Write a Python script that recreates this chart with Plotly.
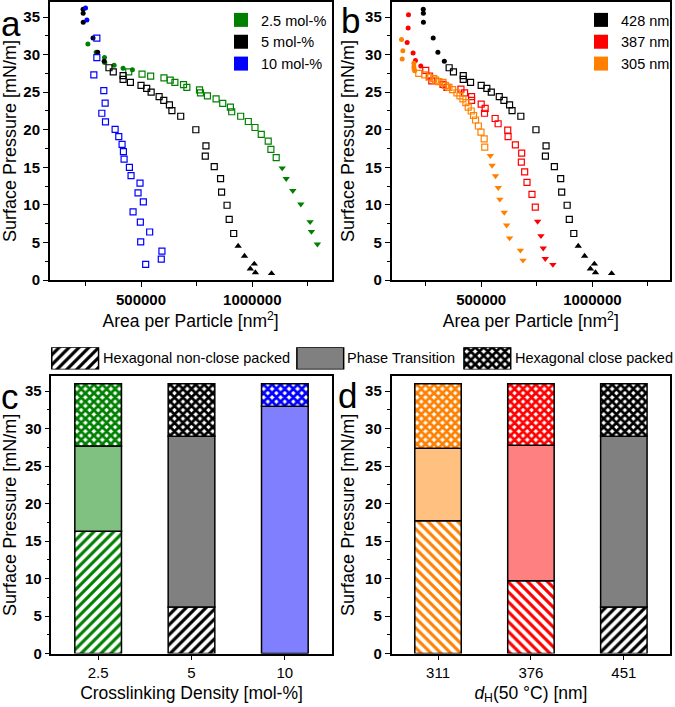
import plotly.graph_objects as go

FONT = "Liberation Sans, Arial, sans-serif"
W, H = 675, 707

# ---------------- Panel a / b data (Area per particle [nm^2], Surface pressure [mN/m]) ----------------
# 2.5 mol-% (green)
G_CIRC_X = [261200, 298500, 335800, 337300, 379100, 419400, 461200]
G_CIRC_Y = [31.4, 30.3, 29.6, 28.95, 28.6, 28.2, 28.0]
G_SQ_X = [444800, 504500, 543300, 603000, 631300, 652200, 691000, 706000, 762700, 767200, 798500,
          837300, 867200, 901500, 907500, 947800, 982100, 1012000, 1040300, 1071600, 1083600, 1107400]
G_SQ_Y = [27.7, 27.4, 27.15, 26.9, 26.6, 26.3, 26.0, 25.65, 25.3, 24.9, 24.5,
          24.1, 23.5, 23.0, 22.4, 21.8, 21.1, 20.3, 19.4, 18.5, 17.4, 16.3]
G_TRI_X = [1134300, 1152200, 1182100, 1217900, 1259700, 1265700, 1292500]
G_TRI_Y = [14.9, 13.5, 11.9, 10.1, 7.76, 6.45, 4.78]

# 5 mol-% = 428 nm (black)
K_CIRC_X = [239600, 240000, 240300, 284300, 305300, 334300]
K_CIRC_Y = [36.05, 35.5, 34.3, 32.2, 30.3, 29.1]
K_SQ_X = [356000, 375300, 419400, 419400, 452200, 500000, 525400, 545500, 581300, 602200, 627600,
          638800, 678300, 746300, 791700, 788700, 829000, 857400, 862000, 886600, 896200, 916400]
K_SQ_Y = [28.25, 27.7, 27.2, 26.7, 26.3, 25.9, 25.5, 25.0, 24.4, 23.9, 23.3,
          22.55, 21.8, 20.0, 17.85, 16.5, 15.1, 13.5, 11.7, 9.96, 8.07, 6.2]
K_TRI_X = [936500, 965000, 1008900, 991000, 1014000, 1086500]
K_TRI_Y = [4.53, 3.2, 2.15, 1.5, 1.0, 0.88]

# 10 mol-% (blue)
B_CIRC_X = [250700, 256700]
B_CIRC_Y = [36.2, 34.6]
B_SQ_X = [301500, 301500, 288000, 332800, 338800, 323900, 340300, 383600, 400000, 414900, 420900,
          423900, 447800, 455200, 495500, 486600, 510400, 464200, 497000, 498500, 538800, 594000,
          591000, 520900]
B_SQ_Y = [32.2, 29.6, 27.3, 25.2, 23.55, 22.2, 21.05, 20.04, 19.08, 18.07, 17.1,
          16.1, 15.0, 13.9, 12.9, 11.6, 10.4, 9.08, 7.72, 5.09, 6.4, 3.86,
          2.8, 2.1]

# 387 nm (red)
R_CIRC_X = [173100, 171600, 167200, 194000, 204500, 228400]
R_CIRC_Y = [35.3, 33.55, 31.6, 30.2, 29.2, 28.5]
R_SQ_X = [250800, 268000, 278000, 328400, 346300, 409000, 425400, 456700, 456700, 500000, 517900,
          515000, 562700, 576100, 619400, 620900, 653700, 682100, 680600, 695500, 706000, 728400, 743300]
R_SQ_Y = [27.9, 27.15, 26.5, 26.05, 25.65, 25.4, 24.9, 24.4, 23.9, 23.4, 22.85,
          22.2, 21.5, 20.8, 19.95, 19.1, 18.0, 16.9, 15.7, 14.4, 13.0, 11.4, 9.7]
R_TRI_X = [753700, 768700, 779100, 788000, 822400]
R_TRI_Y = [7.8, 5.9, 4.25, 2.85, 2.06]

# 305 nm (orange)
O_CIRC_X = [141800, 147800, 144800, 197400, 197400, 198500, 201000]
O_CIRC_Y = [32.0, 30.5, 29.4, 28.85, 28.4, 28.1, 27.85]
O_SQ_X = [219400, 246300, 265700, 286600, 295500, 309000, 328400, 338800, 355200, 371600, 391000,
          404500, 417900, 431300, 441800, 455200, 465700, 474600, 487500, 499000, 513500, 516000]
O_SQ_Y = [27.5, 27.3, 27.0, 26.8, 26.6, 26.4, 26.3, 25.9, 25.65, 25.35, 24.9,
          24.5, 24.1, 23.6, 23.0, 22.5, 21.9, 21.3, 20.5, 19.7, 18.8, 17.7]
O_TRI_X = [541000, 549300, 564300, 576800, 583700, 603700, 614300, 627700, 676200, 688000]
O_TRI_Y = [16.55, 15.25, 13.85, 12.3, 10.75, 9.0, 7.3, 5.6, 3.97, 2.64]

A_LEGEND = ["2.5 mol-%", "5 mol-%", "10 mol-%"]
B_LEGEND = ["428 nm", "387 nm", "305 nm"]

# ---------------- Panel c / d data (phase boundaries, mN/m) ----------------
C_CATS = ["2.5", "5", "10"]
C_LOWER_TOP = [16.3, 6.2, 0.0]
C_TRANS_TOP = [27.7, 29.0, 33.0]
C_TOP = [36.0, 36.0, 36.0]

D_CATS = ["311", "376", "451"]
D_LOWER_TOP = [17.7, 9.7, 6.2]
D_TRANS_TOP = [27.4, 27.8, 29.0]
D_TOP = [36.0, 36.0, 36.0]

PHASE_NAMES = ["Hexagonal non-close packed", "Phase Transition", "Hexagonal close packed"]

# ---------------- styles ----------------
GREEN, BLACK, BLUE, RED, ORANGE = "#008000", "#000000", "#0000ff", "#ff0000", "#ff8000"
C_DARK = [GREEN, BLACK, BLUE]
C_LIGHT = ["#80c080", "#808080", "#8080ff"]
C_HATCH = ["/", "/", "/"]
D_DARK = [ORANGE, RED, BLACK]
D_LIGHT = ["#ffc080", "#ff8080", "#808080"]
D_HATCH = ["\\", "\\", "/"]


def px_x(p):
    return p / W


def px_y(p):
    return 1 - p / H


fig = go.Figure()


def add_series(xref, yref, cx, cy, sx, sy, tx, ty, tri_symbol, color, name, legend):
    fig.add_trace(go.Scatter(x=sx, y=sy, mode="markers", xaxis=xref, yaxis=yref, showlegend=False,
                             marker=dict(symbol="square-open", size=6, color=color,
                                         line=dict(width=1.2, color=color))))
    fig.add_trace(go.Scatter(x=tx, y=ty, mode="markers", xaxis=xref, yaxis=yref, showlegend=False,
                             marker=dict(symbol=tri_symbol, size=6.5, color=color, line=dict(width=0))))
    fig.add_trace(go.Scatter(x=cx, y=cy, mode="markers", xaxis=xref, yaxis=yref, showlegend=False,
                             marker=dict(symbol="circle", size=5, color=color, line=dict(width=0))))
    fig.add_trace(go.Scatter(x=[None], y=[None], mode="markers", xaxis=xref, yaxis=yref, name=name,
                             legend=legend, showlegend=True,
                             marker=dict(symbol="square", size=14, color=color, line=dict(width=0))))


# panel a
add_series("x", "y", G_CIRC_X, G_CIRC_Y, G_SQ_X, G_SQ_Y, G_TRI_X, G_TRI_Y, "triangle-down", GREEN, A_LEGEND[0], "legend")
add_series("x", "y", K_CIRC_X, K_CIRC_Y, K_SQ_X, K_SQ_Y, K_TRI_X, K_TRI_Y, "triangle-up", BLACK, A_LEGEND[1], "legend")
add_series("x", "y", B_CIRC_X, B_CIRC_Y, B_SQ_X, B_SQ_Y, [], [], "triangle-up", BLUE, A_LEGEND[2], "legend")
# panel b
add_series("x2", "y2", K_CIRC_X, K_CIRC_Y, K_SQ_X, K_SQ_Y, K_TRI_X, K_TRI_Y, "triangle-up", BLACK, B_LEGEND[0], "legend2")
add_series("x2", "y2", R_CIRC_X, R_CIRC_Y, R_SQ_X, R_SQ_Y, R_TRI_X, R_TRI_Y, "triangle-down", RED, B_LEGEND[1], "legend2")
add_series("x2", "y2", O_CIRC_X, O_CIRC_Y, O_SQ_X, O_SQ_Y, O_TRI_X, O_TRI_Y, "triangle-down", ORANGE, B_LEGEND[2], "legend2")

BAR_LINE = dict(color="black", width=1.5)


def add_bars(xref, yref, cats, lower, trans, top, dark, light, hatch):
    lo_h = [l for l in lower]
    tr_h = [t - l for t, l in zip(trans, lower)]
    up_h = [u - t for u, t in zip(top, trans)]
    fig.add_trace(go.Bar(x=cats, y=lo_h, base=[0] * len(cats), xaxis=xref, yaxis=yref, width=0.5,
                         showlegend=False,
                         marker=dict(color="white", line=BAR_LINE,
                                     pattern=dict(shape=hatch, fgcolor=dark, bgcolor="white",
                                                  fillmode="replace", size=7, solidity=0.45))))
    fig.add_trace(go.Bar(x=cats, y=tr_h, base=lower, xaxis=xref, yaxis=yref, width=0.5,
                         showlegend=False, marker=dict(color=light, line=BAR_LINE)))
    fig.add_trace(go.Bar(x=cats, y=up_h, base=trans, xaxis=xref, yaxis=yref, width=0.5,
                         showlegend=False,
                         marker=dict(color="white", line=BAR_LINE,
                                     pattern=dict(shape="x", fgcolor=dark, bgcolor="white",
                                                  fillmode="replace", size=6, solidity=0.72))))


add_bars("x3", "y3", C_CATS, C_LOWER_TOP, C_TRANS_TOP, C_TOP, C_DARK, C_LIGHT, C_HATCH)
add_bars("x4", "y4", D_CATS, D_LOWER_TOP, D_TRANS_TOP, D_TOP, D_DARK, D_LIGHT, D_HATCH)

# shared legend keys for c/d (drawn in a small key strip, pixel-scaled axis)
KEY_CENTERS = [75.5, 321.7, 489.5]
KEY_TEXT_X = [101, 347, 515]
KEY_W = 47
key_patterns = [dict(shape="/", fgcolor="black", bgcolor="white", fillmode="replace", size=7, solidity=0.45),
                None,
                dict(shape="x", fgcolor="black", bgcolor="white", fillmode="replace", size=6, solidity=0.72)]
key_colors = ["white", "#808080", "white"]
for cx, pat, col in zip(KEY_CENTERS, key_patterns, key_colors):
    mk = dict(color=col, line=BAR_LINE)
    if pat:
        mk["pattern"] = pat
    fig.add_trace(go.Bar(x=[cx], y=[1], base=[0], width=[KEY_W], xaxis="x5", yaxis="y5",
                         showlegend=False, marker=mk, hoverinfo="skip"))

annotations = []
for tx, name in zip(KEY_TEXT_X, PHASE_NAMES):
    annotations.append(dict(x=px_x(tx), y=px_y(362), xref="paper", yref="paper", text=name,
                            showarrow=False, xanchor="left", yanchor="middle",
                            font=dict(family=FONT, size=14.5, color="black")))

for lab, (lx, ly) in zip(["a", "b", "c", "d"], [(-1, 23), (341, 20), (-1, 401), (338, 400)]):
    annotations.append(dict(x=px_x(lx), y=px_y(ly), xref="paper", yref="paper", text=lab,
                            showarrow=False, xanchor="left", yanchor="middle",
                            font=dict(family=FONT, size=35, color="black")))

TICKFONT_B = dict(family=FONT, size=15, color="black", weight="bold")
TICKFONT_R = dict(family=FONT, size=15, color="black")
TITLEFONT = dict(family=FONT, size=17.5, color="black")
YTITLEFONT = dict(family=FONT, size=18, color="black")

common = dict(showline=True, linecolor="black", linewidth=1.5, mirror=True, ticks="outside",
              ticklen=5, tickwidth=1.3, tickcolor="black", showgrid=False, zeroline=False)

yaxis_common = dict(common, range=[0, 37], tickvals=[0, 5, 10, 15, 20, 25, 30, 35], tickfont=TICKFONT_B,
                    minor=dict(dtick=2.5, tick0=0, ticks="outside", ticklen=3, tickcolor="black"),
                    title=dict(text="Surface Pressure [mN/m]", font=YTITLEFONT, standoff=6))

xaxis_area = dict(common, tickvals=[500000, 1000000], ticktext=["500000", "1000000"], tickfont=TICKFONT_B,
                  minor=dict(dtick=250000, tick0=0, ticks="outside", ticklen=4, tickcolor="black"),
                  title=dict(text="Area per Particle [nm<sup>2</sup>]", font=TITLEFONT, standoff=8))

fig.update_layout(
    width=W, height=H, margin=dict(l=0, r=0, t=0, b=0), paper_bgcolor="white", plot_bgcolor="white",
    barmode="overlay", font=dict(family=FONT, color="black"),
    xaxis=dict(xaxis_area, domain=[px_x(50), px_x(333)], range=[90000, 1356000], anchor="y"),
    yaxis=dict(yaxis_common, domain=[px_y(282.7), px_y(1)], anchor="x"),
    xaxis2=dict(xaxis_area, domain=[px_x(393.3), px_x(673)], range=[97000, 1349000], anchor="y2"),
    yaxis2=dict(yaxis_common, domain=[px_y(282.7), px_y(1)], anchor="x2"),
    xaxis3=dict(common, domain=[px_x(51.7), px_x(333)], range=[-0.5, 2.5], type="category", anchor="y3",
                tickfont=TICKFONT_R, title=dict(text="Crosslinking Density [mol-%]", font=TITLEFONT, standoff=6)),
    yaxis3=dict(yaxis_common, domain=[px_y(661), px_y(380)], anchor="x3"),
    xaxis4=dict(common, domain=[px_x(393.3), px_x(673.3)], range=[-0.5, 2.5], type="category", anchor="y4",
                tickfont=TICKFONT_R,
                title=dict(text="<i>d</i><sub>H</sub>(50 °C) [nm]", font=TITLEFONT, standoff=6)),
    yaxis4=dict(yaxis_common, domain=[px_y(661), px_y(380)], anchor="x4"),
    xaxis5=dict(domain=[0, 1], range=[0, W], visible=False, anchor="y5", fixedrange=True),
    yaxis5=dict(domain=[px_y(373.3), px_y(350.7)], range=[0, 1], visible=False, anchor="x5", fixedrange=True),
    legend=dict(x=px_x(222), y=px_y(3), xanchor="left", yanchor="top", bgcolor="rgba(0,0,0,0)",
                font=dict(family=FONT, size=14.5, color="black"), tracegroupgap=0, itemwidth=30),
    legend2=dict(x=px_x(584), y=px_y(3), xanchor="left", yanchor="top", bgcolor="rgba(0,0,0,0)",
                 font=dict(family=FONT, size=14.5, color="black"), tracegroupgap=0, itemwidth=30),
    annotations=annotations,
)

fig.write_html("out.html", config={"displayModeBar": False},
               post_script="document.body.style.margin='0';document.body.style.overflow='hidden';")
